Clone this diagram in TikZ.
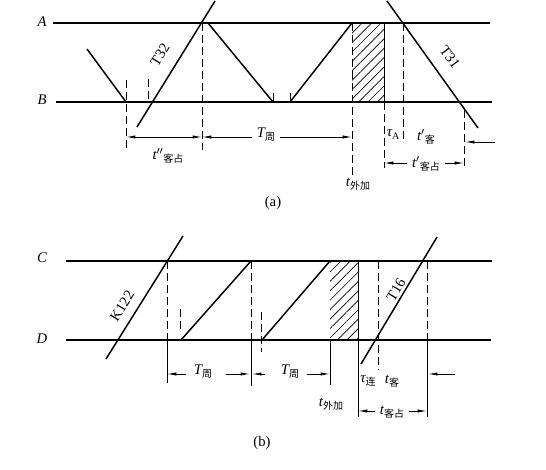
\documentclass[tikz,border=0pt]{standalone}
\usepackage{fontspec}
\setmainfont{Liberation Serif}
\newfontfamily\cjk{Noto Sans CJK SC}
\usetikzlibrary{arrows.meta,patterns.meta}
\newcommand{\zhsub}[1]{\raisebox{-0.45ex}{\fontsize{7.5}{8}\selectfont\upshape\cjk #1}}

\begin{document}
\begin{tikzpicture}[
    x=0.75pt, y=-0.75pt,
    track/.style={line width=1.3pt},
    train/.style={line width=1.1pt},
    guide/.style={line width=0.6pt, dash pattern=on 6pt off 3pt},
    ext/.style={line width=0.6pt},
    dim/.style={line width=0.6pt, -{Latex[length=7pt,width=2.4pt]}},
    both/.style={line width=0.6pt, {Latex[length=7pt,width=2.4pt]}-{Latex[length=7pt,width=2.4pt]}},
    lbl/.style={font=\fontsize{11}{13}\selectfont\itshape, inner sep=1pt},
    tag/.style={font=\fontsize{11}{13}\selectfont, inner sep=1pt},
    hatch/.style={pattern={Lines[angle=45,distance=5pt,line width=0.5pt]}}
]
\useasboundingbox (0,0) rectangle (546,470);

% (a) stations A and B
\node[lbl] (A) at (42,22) {A};
\node[lbl] (B) at (42,100) {B};
\fill[hatch] (352,23) rectangle (384,102);
\draw[ext] (384,23) -- (384,102);
\draw[track] (53,23) -- (490,23);
\draw[track] (56,102) -- (492,102);

% (a) trains
\draw[train] (87,49) -- (126,102);
\draw[train] (137,127) -- (215,1);
\draw[train] (208,23) -- (273,102);
\draw[train] (290,102) -- (352,23);
\draw[train] (387,1) -- (478,128);
\node[tag, rotate=58] (T32) at (160,55) {T32};
\node[tag, rotate=-54] (T31) at (450,57) {T31};
\draw[ext] (273,93) -- (273,102);
\draw[ext] (290,93) -- (290,102);

% (a) guide lines
\draw[guide] (126,80) -- (126,150);
\draw[guide] (148,79) -- (148,102);
\draw[guide] (202,23) -- (202,150);
\draw[guide] (352,23) -- (352,175);
\draw[guide] (384,102) -- (384,168);
\draw[guide] (403,23) -- (403,143);
\draw[guide] (464,110) -- (464,168);

% (a) dimensions
\draw[both] (126,137) -- (202,137);
\node[lbl] (ta1) at (168,156) {t$''$\zhsub{客占}};
\node[lbl] (Ta) at (266,135) {T\zhsub{周}};
\draw[dim] (Ta.west) ++(-3,2) coordinate (Ta1) -- (202,137);
\draw[dim] (Ta.east) ++(3,2) coordinate (Ta2) -- (352,137);
\node[lbl] (tw1) at (358,184) {t\zhsub{外加}};
\node[lbl] (tauA) at (393,135) {τ\raisebox{-0.45ex}{\fontsize{7.5}{8}\selectfont\upshape A}};
\node[lbl] (tk1) at (426,137) {t$'$\zhsub{客}};
\coordinate (ra) at (495,142);
\draw[dim] (ra) -- (465,142);
\node[lbl] (tka) at (426,164) {t$'$\zhsub{客占}};
\draw[dim] (tka.west) ++(-3,-1) coordinate (tka1) -- (384,163);
\draw[dim] (tka.east) ++(3,-1) coordinate (tka2) -- (464,163);
\node[tag] (capa) at (273,203) {(a)};

% (b) stations C and D
\node[lbl] (C) at (42,258) {C};
\node[lbl] (D) at (42,339) {D};
\fill[hatch] (330,261) rectangle (358,340);
\draw[ext] (358,261) -- (358,340);
\draw[track] (66,261) -- (492,261);
\draw[track] (66,340) -- (491,340);

% (b) trains
\draw[train] (106,359) -- (183,236);
\draw[train] (181,340) -- (251,261);
\draw[train] (262,340) -- (330,261);
\draw[train] (361,364) -- (437,237);
\node[tag, rotate=58] (K122) at (122,306) {K122};
\node[tag, rotate=59] (T16) at (396,290) {T16};

% (b) guide lines
\draw[guide] (180,309) -- (180,330);
\draw[guide] (261,312) -- (261,352);
\draw[guide] (167,261) -- (167,340);
\draw[guide] (251,261) -- (251,340);
\draw[guide] (378,261) -- (378,370);
\draw[guide] (427,261) -- (427,340);
\draw[ext] (167,340) -- (167,383);
\draw[ext] (251,340) -- (251,386);
\draw[ext] (330,340) -- (330,385);
\draw[ext] (358,340) -- (358,417);
\draw[ext] (427,340) -- (427,417);

% (b) dimensions
\node[lbl] (Tb1) at (203,372) {T\zhsub{周}};
\draw[dim] (Tb1.west) ++(-6,2) coordinate (Tb1a) -- (167,374);
\draw[dim] (Tb1.east) ++(12,2) coordinate (Tb1b) -- (250,374);
\node[lbl] (Tb2) at (290,372) {T\zhsub{周}};
\draw[dim] (Tb2.west) ++(-14,2) coordinate (Tb2a) -- (252,374);
\draw[dim] (Tb2.east) ++(6,2) coordinate (Tb2b) -- (330,374);
\node[lbl] (tw2) at (331,404) {t\zhsub{外加}};
\node[lbl] (tau) at (368,381) {τ\zhsub{连}};
\node[lbl] (tk2) at (392,381) {t\zhsub{客}};
\coordinate (rb) at (455,374);
\draw[dim] (rb) -- (428,374);
\node[lbl] (tkb) at (392,412) {t\zhsub{客占}};
\draw[dim] (tkb.west) ++(-3,-1) coordinate (tkb1) -- (358,411);
\draw[dim] (tkb.east) ++(3,-1) coordinate (tkb2) -- (427,411);
\node[tag] (capb) at (262,443) {(b)};
\end{tikzpicture}
\end{document}
